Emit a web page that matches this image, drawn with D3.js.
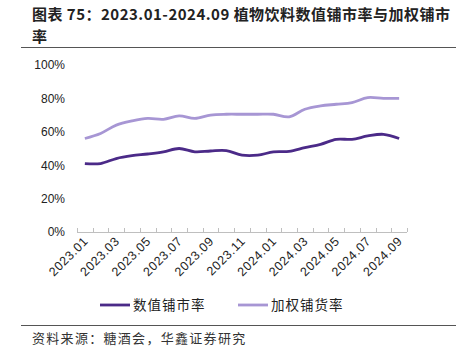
<!DOCTYPE html>
<html lang="zh">
<head>
<meta charset="utf-8">
<script src="https://cdn.jsdelivr.net/npm/d3@7"></script>
<style>
  body { margin: 0; background: #fff; }
  svg { display: block; }
  .tick text { font-family: "Liberation Sans", Arial, sans-serif; }
</style>
</head>
<body>
<script>
  var months = ["2023.01","2023.02","2023.03","2023.04","2023.05","2023.06","2023.07","2023.08","2023.09","2023.10","2023.11","2023.12",
                "2024.01","2024.02","2024.03","2024.04","2024.05","2024.06","2024.07","2024.08","2024.09"];
  var numRate = [41, 41, 44, 45.7, 46.7, 48, 50, 48, 48.5, 48.7, 46, 46, 48, 48.3, 50.5, 52.5, 55.5, 55.5, 57.5, 58.5, 56];
  var wtRate  = [56, 59, 64, 66.5, 68, 67.5, 69.5, 68, 70, 70.5, 70.5, 70.5, 70.5, 69, 73.5, 75.5, 76.5, 77.5, 80.5, 80, 80];
  var seriesNames = ["数值铺市率", "加权铺货率"];
  var yTicks = [0, 20, 40, 60, 80, 100];

  var w = 456, h = 362;
  var padding = { left: 77, right: 49, top: 65, bottom: 130 };
  var colors = ["#4b2a88", "#a796d4"];

  var svg = d3.select("body").append("svg")
    .attr("width", w)
    .attr("height", h);

  // title
  var title = svg.append("text")
    .attr("font-family", "'Noto Sans CJK SC', sans-serif")
    .attr("font-weight", "bold")
    .attr("font-size", 15)
    .attr("fill", "#222");
  title.append("tspan").attr("x", 32).attr("y", 20).attr("textLength", 418).attr("lengthAdjust", "spacing")
    .text("图表 75：2023.01-2024.09 植物饮料数值铺市率与加权铺市");
  title.append("tspan").attr("x", 32).attr("y", 42).text("率");

  svg.append("line").attr("x1", 21).attr("x2", w).attr("y1", 47.5).attr("y2", 47.5)
    .attr("stroke", "#555").attr("stroke-width", 1);
  svg.append("line").attr("x1", 21).attr("x2", w).attr("y1", 325.5).attr("y2", 325.5)
    .attr("stroke", "#555").attr("stroke-width", 1);

  svg.append("text")
    .attr("x", 32).attr("y", 343)
    .attr("font-family", "'Noto Sans CJK SC', sans-serif")
    .attr("font-size", 13)
    .attr("letter-spacing", 1.3)
    .attr("fill", "#333")
    .text("资料来源：糖酒会，华鑫证券研究");

  const xScale = d3.scaleBand()
    .domain(months)
    .range([padding.left, w - padding.right]);

  const yScale = d3.scaleLinear()
    .domain([0, 100])
    .range([h - padding.bottom, padding.top]);

  // y axis labels (no line)
  const yAxis = d3.axisLeft(yScale).tickValues(yTicks).tickFormat(d => d + "%").tickSize(0).tickPadding(12);
  var gy = svg.append("g")
    .attr("transform", "translate(" + padding.left + ",0)")
    .call(yAxis);
  gy.select(".domain").remove();
  gy.selectAll("text").attr("font-size", 12).attr("fill", "#222");

  // x axis
  var y0 = yScale(0);
  svg.append("line")
    .attr("x1", padding.left).attr("x2", w - padding.right)
    .attr("y1", y0 + 0.5).attr("y2", y0 + 0.5)
    .attr("stroke", "#bfbfbf");
  var bounds = months.map(m => xScale(m)).concat([xScale(months[months.length - 1]) + xScale.bandwidth()]);
  svg.selectAll(".xtick")
    .data(bounds)
    .enter()
    .append("line")
    .attr("class", "xtick")
    .attr("x1", d => Math.round(d) + 0.5).attr("x2", d => Math.round(d) + 0.5)
    .attr("y1", y0).attr("y2", y0 - 4)
    .attr("stroke", "#bfbfbf");

  svg.selectAll(".xlabel")
    .data(months.filter((m, i) => i % 2 == 0))
    .enter()
    .append("text")
    .attr("class", "xlabel")
    .attr("font-family", "'Liberation Sans', Arial, sans-serif")
    .attr("font-size", 12.5)
    .attr("letter-spacing", 0.6)
    .attr("fill", "#222")
    .attr("text-anchor", "end")
    .attr("transform", d => "translate(" + (xScale(d) + xScale.bandwidth() / 2 + 4) + "," + (y0 + 10) + ") rotate(-45)")
    .text(d => d);

  // lines
  var line = d3.line()
    .x((d, i) => xScale(months[i]) + xScale.bandwidth() / 2)
    .y(d => yScale(d))
    .curve(d3.curveCatmullRom.alpha(0.5));

  [numRate, wtRate].forEach(function(s, i) {
    svg.append("path")
      .datum(s)
      .attr("d", line)
      .attr("fill", "none")
      .attr("stroke", colors[i])
      .attr("stroke-width", 2.8);
  });

  // legend
  var legendX = [100, 238];
  seriesNames.forEach(function(n, i) {
    svg.append("line")
      .attr("x1", legendX[i]).attr("x2", legendX[i] + 30)
      .attr("y1", 305).attr("y2", 305)
      .attr("stroke", colors[i]).attr("stroke-width", 2.8);
    svg.append("text")
      .attr("x", legendX[i] + 33).attr("y", 310)
      .attr("font-family", "'Noto Sans CJK SC', sans-serif")
      .attr("font-size", 13.5)
      .attr("letter-spacing", 1)
      .attr("fill", "#222")
      .text(n);
  });
</script>
</body>
</html>
